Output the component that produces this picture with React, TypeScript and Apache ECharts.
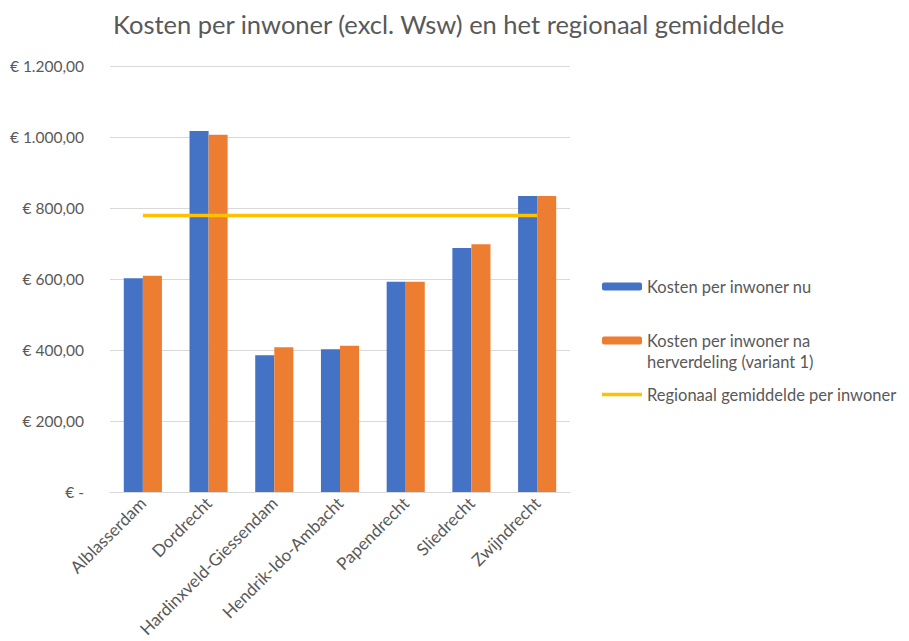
import React, { useEffect, useRef } from "react";
import * as echarts from "echarts";

const categories = [
  "Alblasserdam",
  "Dordrecht",
  "Hardinxveld-Giessendam",
  "Hendrik-Ido-Ambacht",
  "Papendrecht",
  "Sliedrecht",
  "Zwijndrecht",
];
const kostenNu = [602, 1017, 385, 402, 592, 687, 834];
const kostenNa = [609, 1006, 408, 412, 592, 698, 834];
const regionaalGemiddelde = [779, 779, 779, 779, 779, 779, 779];
const seriesNames = [
  "Kosten per inwoner nu",
  "Kosten per inwoner na herverdeling (variant 1)",
  "Regionaal gemiddelde per inwoner",
];
const legendLabels = [
  "Kosten per inwoner nu",
  "\nKosten per inwoner na\nherverdeling (variant 1)",
  "Regionaal gemiddelde per inwoner",
];

const FONT = "Lato, 'Noto Sans', sans-serif";
const GREY = "#595959";

function fmtEuro(v: number): string {
  if (v === 0) return "€ -";
  const s = Math.round(v).toString().replace(/\B(?=(\d{3})+(?!\d))/g, ".");
  return "€ " + s + ",00";
}

export default function App() {
  const ref = useRef<HTMLDivElement>(null);
  useEffect(() => {
    document.body.style.margin = "0";
    if (!ref.current) return;
    const chart = echarts.init(ref.current, undefined, { renderer: "svg" });
    chart.setOption({
      animation: false,
      backgroundColor: "#ffffff",
      textStyle: { fontFamily: FONT },
      title: {
        text: "Kosten per inwoner (excl. Wsw) en het regionaal gemiddelde",
        left: 108,
        top: 6,
        textStyle: { fontFamily: FONT, fontSize: 25.5, fontWeight: "normal", color: GREY },
      },
      legend: {
        orient: "vertical",
        left: 597,
        top: 271,
        itemWidth: 40,
        itemHeight: 8,
        itemGap: 12,
        textStyle: { fontFamily: FONT, fontSize: 16.5, color: GREY, lineHeight: 21 },
        data: [
          { name: seriesNames[0] },
          { name: seriesNames[1] },
          { name: seriesNames[2], icon: "path://M0,0 L40,0 L40,3.5 L0,3.5 Z" },
        ],
        formatter: (name: string) => legendLabels[seriesNames.indexOf(name)],
      },
      grid: { left: 110, right: 339, top: 66, bottom: 149 },
      xAxis: {
        type: "category",
        data: categories,
        axisLine: { lineStyle: { color: "#d9d9d9" } },
        axisTick: { show: false },
        axisLabel: { rotate: 45, color: GREY, fontSize: 17, fontFamily: FONT, margin: 8, interval: 0 },
      },
      yAxis: {
        type: "value",
        min: 0,
        max: 1200,
        interval: 200,
        axisLine: { show: false },
        axisTick: { show: false },
        splitLine: { lineStyle: { color: "#d9d9d9" } },
        axisLabel: { color: GREY, fontSize: 15.5, fontFamily: FONT, margin: 26, formatter: fmtEuro },
      },
      series: [
        {
          name: seriesNames[0],
          type: "bar",
          data: kostenNu,
          barGap: "0%",
          barCategoryGap: "42%",
          itemStyle: { color: "#4472C4" },
        },
        {
          name: seriesNames[1],
          type: "bar",
          data: kostenNa,
          itemStyle: { color: "#ED7D31" },
        },
        {
          name: seriesNames[2],
          type: "line",
          data: regionaalGemiddelde,
          symbol: "none",
          lineStyle: { color: "#FFC000", width: 3.5 },
          itemStyle: { color: "#FFC000" },
        },
      ],
    });
    return () => chart.dispose();
  }, []);
  return <div ref={ref} style={{ width: 909, height: 641 }} />;
}
